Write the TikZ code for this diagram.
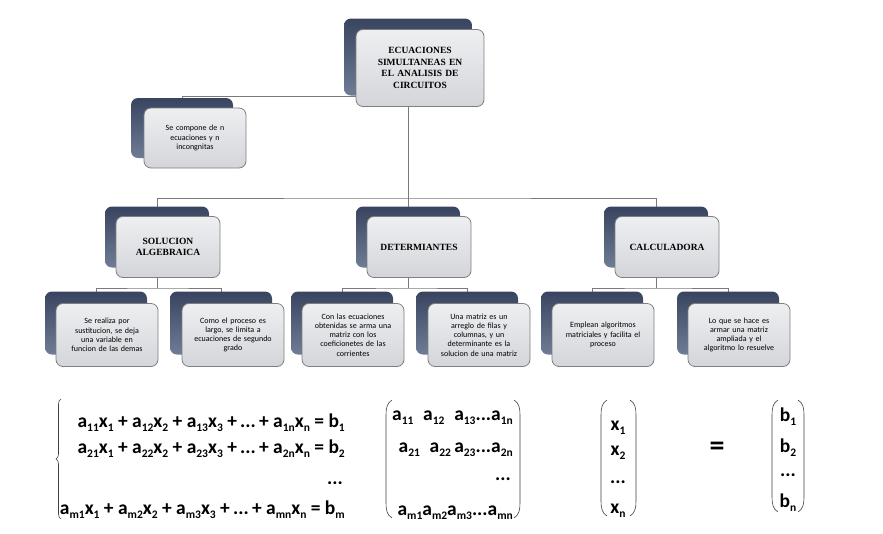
\documentclass[tikz,border=0pt]{standalone}
\usepackage{fontspec}
\setmainfont{Carlito}
\newfontfamily\headfont{Liberation Serif}
\usetikzlibrary{decorations.pathreplacing}
\pgfdeclarelayer{paper}\pgfdeclarelayer{bg}\pgfsetlayers{paper,bg,main}
\definecolor{darkA}{HTML}{394560}
\definecolor{darkB}{HTML}{6E7C96}
\definecolor{frontA}{HTML}{EEEFF1}
\definecolor{frontB}{HTML}{D3D5DA}
\definecolor{frame}{HTML}{7F7F7F}
\definecolor{wirec}{HTML}{7A7A7A}
\tikzset{
 back/.style={rounded corners=7pt, top color=darkA, bottom color=darkB, draw=none, inner sep=0pt},
 front/.style={rounded corners=7pt, top color=frontA, bottom color=frontB, draw=frame, line width=0.8pt, align=center, inner sep=2pt, text=black},
 head/.style={font=\headfont\bfseries\fontsize{9.5}{11.5}\selectfont},
 body/.style={font=\fontsize{8}{9.2}\selectfont},
 wire/.style={draw=wirec, line width=0.8pt},
 eq/.style={font=\bfseries\fontsize{19.5}{19.5}\selectfont, inner sep=0pt},
 paren/.style={draw=black!75, line width=0.6pt}
}
\newcommand\sbs[1]{\raisebox{-0.45ex}{\fontsize{11.5}{11.5}\selectfont #1}}
% name, cx, cy, w, h, dx, dy, textwidth, style ; text in \pairtext
\newcommand\pairbox[9]{%
 \node[back, minimum width=#4, minimum height=#5] (#1D) at (#2,#3) {};
 \node[front, minimum width=#4, minimum height=#5, text width=#8, #9] (#1) at (#2+#6,#3+#7) {\pairtext};}
\newcommand\lpar[3]{\draw[paren] (#1+6,#2) .. controls (#1+1,#2+3) and (#1,#2+8) .. (#1,#2+15) -- (#1,#3-15) .. controls (#1,#3-8) and (#1+1,#3-3) .. (#1+6,#3);}
\newcommand\rpar[3]{\draw[paren] (#1-6,#2) .. controls (#1-1,#2+3) and (#1,#2+8) .. (#1,#2+15) -- (#1,#3-15) .. controls (#1,#3-8) and (#1-1,#3-3) .. (#1-6,#3);}
\begin{document}
\begin{tikzpicture}[x=1pt,y=-1pt]
\useasboundingbox (0,0) rectangle (883,533);
\begin{pgfonlayer}{paper}
\fill[white] (0,0) rectangle (883,533);
\end{pgfonlayer}
% boxes
\def\pairtext{ECUACIONES\\SIMULTANEAS EN\\EL ANALISIS DE\\CIRCUITOS}
\pairbox{top}{408}{57}{128}{77}{12}{11}{118pt}{head}
\def\pairtext{Se compone de n\\ecuaciones y n\\incongnitas}
\pairbox{sc}{182}{128}{102}{60}{13}{10}{92pt}{body}
\def\pairtext{SOLUCION\\ALGEBRAICA}
\pairbox{sol}{157}{237}{104}{61}{11}{10}{94pt}{head}
\def\pairtext{DETERMIANTES}
\pairbox{det}{408}{237}{104}{61}{11}{10}{94pt}{head}
\def\pairtext{CALCULADORA}
\pairbox{cal}{656}{237}{104}{61}{11}{10}{94pt}{head}
\def\pairtext{Se realiza por\\sustitucion, se deja\\una variable en\\funcion de las demas}
\pairbox{sa}{96}{323}{102}{63}{11}{12}{96pt}{body}
\def\pairtext{Como el proceso es\\largo, se limita a\\ecuaciones de segundo\\grado}
\pairbox{sb}{221}{323}{102}{63}{12}{12}{96pt}{body}
\def\pairtext{Con las ecuaciones\\obtenidas se arma una\\matriz con los\\coeficionetes de las\\corrientes}
\pairbox{da}{342}{323}{102}{63}{11}{12}{96pt}{body}
\def\pairtext{Una matriz es un\\arreglo de filas y\\columnas, y un\\determinante es la\\solucion de una matriz}
\pairbox{db}{467}{323}{102}{63}{12}{12}{96pt}{body}
\def\pairtext{Emplean algoritmos\\matriciales y facilita el\\proceso}
\pairbox{ca}{592}{323}{102}{63}{11}{12}{96pt}{body}
\def\pairtext{Lo que se hace es\\armar una matriz\\ampliada y el\\algoritmo lo resuelve}
\pairbox{cb}{728}{323}{102}{63}{11}{12}{96pt}{body}
% connectors
\coordinate (jS) at (408,96);
\coordinate (jT) at (408,198);
\coordinate (jA) at (157,288);
\coordinate (jB) at (408,288);
\coordinate (jC) at (656,288);
\begin{pgfonlayer}{bg}
\draw[wire] (topD.center) -- (jT);
\draw[wire] (scD.center) |- (jS);
\draw[wire] (solD.center) |- (jT) -| (calD.center);
\draw[wire] (jT) -- (detD.center);
\draw[wire] (solD.center) -- (jA);
\draw[wire] (saD.center) |- (jA) -| (sbD.center);
\draw[wire] (detD.center) -- (jB);
\draw[wire] (daD.center) |- (jB) -| (dbD.center);
\draw[wire] (calD.center) -- (jC);
\draw[wire] (caD.center) |- (jC) -| (cbD.center);
\end{pgfonlayer}
% system of equations
\draw[paren, decorate, decoration={brace, amplitude=5pt}] (61,519) -- (61,399);
\node[eq, anchor=base east] (e1) at (345,427) {a\sbs{11}x\sbs{1} + a\sbs{12}x\sbs{2} + a\sbs{13}x\sbs{3} +\,...\,+ a\sbs{1n}x\sbs{n} = b\sbs{1}};
\node[eq, anchor=base east] (e2) at (345,453) {a\sbs{21}x\sbs{1} + a\sbs{22}x\sbs{2} + a\sbs{23}x\sbs{3} +\,...\,+ a\sbs{2n}x\sbs{n} = b\sbs{2}};
\node[eq, anchor=base east] (e3) at (343,484) {...};
\node[eq, anchor=base east] (e4) at (345,514) {a\sbs{m1}x\sbs{1} + a\sbs{m2}x\sbs{2} + a\sbs{m3}x\sbs{3} +\,...\,+ a\sbs{mn}x\sbs{n} = b\sbs{m}};
% matrix A
\lpar{386}{400}{518}
\rpar{520}{400}{518}
\node[eq, anchor=base east] (m1) at (513,420) {a\sbs{11}\enspace a\sbs{12}\enspace a\sbs{13}...a\sbs{1n}};
\node[eq, anchor=base east] (m2) at (513,452) {a\sbs{21}\enspace a\sbs{22}\,a\sbs{23}...a\sbs{2n}};
\node[eq, anchor=base east] (m3) at (511,480) {...};
\node[eq, anchor=base east] (m4) at (513,515) {a\sbs{m1}a\sbs{m2}a\sbs{m3}...a\sbs{mn}};
% vector x
\lpar{601}{400}{516}
\rpar{636}{400}{516}
\node[eq, anchor=base] (x1) at (618,430) {x\sbs{1}};
\node[eq, anchor=base] (x2) at (618,455) {x\sbs{2}};
\node[eq, anchor=base] (x3) at (618,483) {...};
\node[eq, anchor=base] (x4) at (618,513) {x\sbs{n}};
% equals
\node[eq, font=\bfseries\fontsize{30}{30}\selectfont] (eqs) at (717,449) {=};
% vector b
\lpar{772}{400}{512}
\rpar{804}{400}{512}
\node[eq, anchor=base] (b1) at (788,421) {b\sbs{1}};
\node[eq, anchor=base] (b2) at (788,452) {b\sbs{2}};
\node[eq, anchor=base] (b3) at (788,476) {...};
\node[eq, anchor=base] (b4) at (788,507) {b\sbs{n}};
\end{tikzpicture}
\end{document}
